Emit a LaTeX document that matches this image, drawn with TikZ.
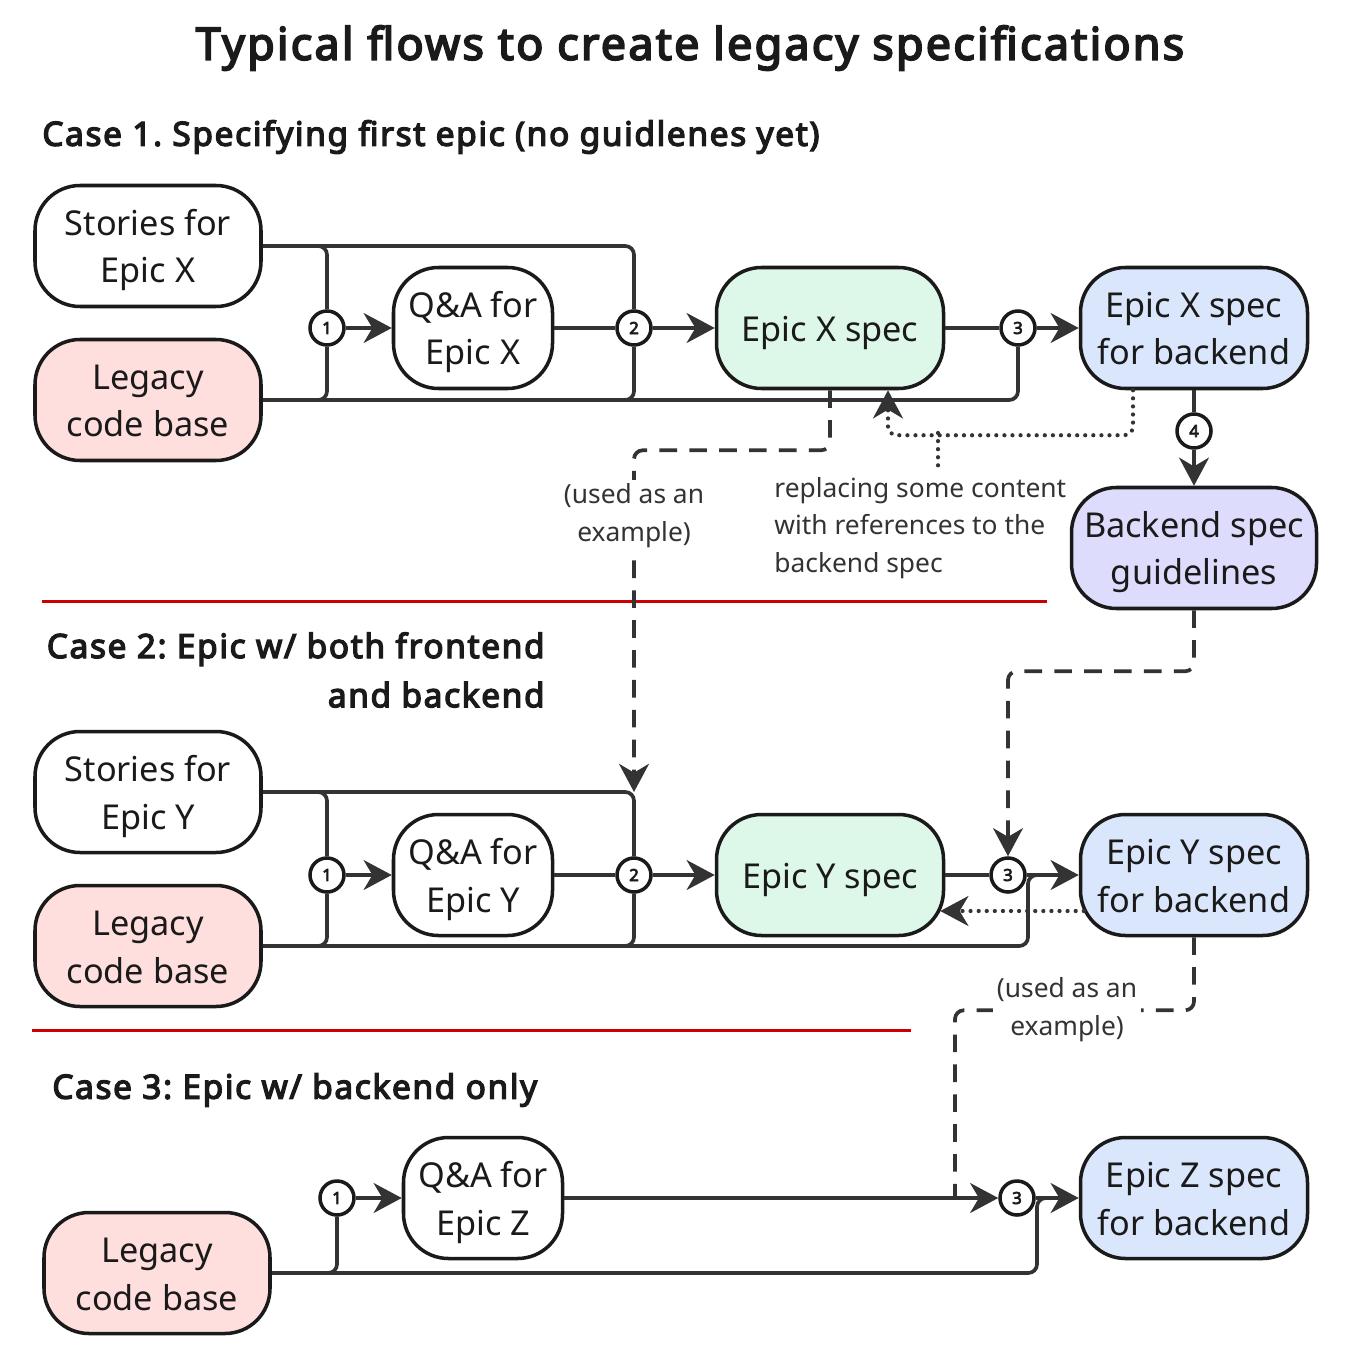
\documentclass[tikz,border=0pt]{standalone}
\usepackage{fontspec}
\setmainfont{Noto Sans}
\newfontfamily\headfont{Noto Sans}[FakeBold=4,LetterSpace=5]
\frenchspacing
\usetikzlibrary{arrows.meta,positioning,calc}
\definecolor{cPink}{RGB}{255,222,222}
\definecolor{cMint}{RGB}{221,247,232}
\definecolor{cSky}{RGB}{218,230,251}
\definecolor{cLilac}{RGB}{222,220,252}
\definecolor{cInk}{RGB}{26,26,26}
\definecolor{cLine}{RGB}{51,51,51}
\definecolor{cRule}{RGB}{204,0,0}
\tikzset{
  basebox/.style={rectangle,rounded corners=0.9cm,draw=cInk,line width=2pt,
                  align=center,text=cInk,font={\fontsize{19.5}{27}\selectfont},
                  minimum height=2.42cm,inner sep=2pt,
                  text height=48pt,text depth=5.9pt},
  whitenode/.style={basebox,fill=white,minimum width=4.52cm},
  pinknode/.style={basebox,fill=cPink,minimum width=4.52cm},
  qanode/.style={basebox,fill=white,minimum width=3.18cm},
  mintnode/.style={basebox,fill=cMint,minimum width=4.54cm,text height=21pt},
  skynode/.style={basebox,fill=cSky,minimum width=4.54cm},
  lilacnode/.style={basebox,fill=cLilac,minimum width=4.9cm},
  numcirc/.style={circle,draw=cInk,line width=2pt,fill=white,minimum size=0.68cm,
                  inner sep=0pt,text=cInk,font={\headfont\fontsize{9.5}{10}\selectfont}},
  headtxt/.style={font={\headfont\fontsize{19}{28}\selectfont},text=cInk,inner sep=0pt},
  notetxt/.style={font={\fontsize{15}{21.5}\selectfont},text=cLine,inner sep=2pt},
  conn/.style={line width=2.1pt,draw=cLine,rounded corners=5pt},
  arr/.style={conn,-{Stealth[length=16pt,width=17pt,inset=5pt]}},
  dashline/.style={conn,dash pattern=on 10pt off 7pt},
  dasharr/.style={arr,dash pattern=on 10pt off 7pt},
  dotline/.style={conn,line width=2.4pt,dash pattern=on 0pt off 4.6pt,line cap=round},
  dotarr/.style={arr,line width=2.4pt,dash pattern=on 0pt off 4.6pt,line cap=round},
  ruleline/.style={line width=1.7pt,draw=cRule}
}

\begin{document}
\begin{tikzpicture}
  \useasboundingbox (0,0) rectangle (27,-27.4);

  % Title and case headings
  \node[font={\headfont\fontsize{25.5}{30}\selectfont},text=cInk] (title) at (13.8,-0.96)
      {Typical flows to create legacy specifications};
  \node[headtxt,anchor=west] (case1) at (0.84,-2.74)
      {Case 1. Specifying first epic (no guidlenes yet)};
  \node[headtxt,anchor=east,align=right] (case2) at (10.9,-13.4)
      {Case 2: Epic w/ both frontend\\and backend};
  \node[headtxt,anchor=west] (case3) at (1.04,-21.8)
      {Case 3: Epic w/ backend only};

  % Separators
  \draw[ruleline] (0.84,-12.02) -- (20.94,-12.02);
  \draw[ruleline] (0.64,-20.6) -- (18.22,-20.6);

  % Case 1: first epic
  \node[whitenode] (storX) at (2.96,-4.92) {Stories for\\Epic X};
  \node[pinknode] (codeX) at (2.96,-8.0) {Legacy\\code base};
  \node[qanode] (qaX) at (9.46,-6.56) {Q\&A for\\Epic X};
  \node[mintnode] (specX) at (16.6,-6.56) {Epic X spec};
  \node[skynode] (backX) at (23.88,-6.56) {Epic X spec\\for backend};
  \node[lilacnode] (guide) at (23.88,-10.96) {Backend spec\\guidelines};
  \node[numcirc] (x1) at (6.54,-6.56) {1};
  \node[numcirc] (x2) at (12.68,-6.56) {2};
  \node[numcirc] (x3) at (20.36,-6.56) {3};
  \node[numcirc] (x4) at (23.88,-8.62) {4};

  \draw[conn] (storX.east) -| (x1);
  \draw[conn] (storX.east) -| (x2);
  \draw[conn] (codeX.east) -| (x1);
  \draw[conn] (codeX.east) -| (x2);
  \draw[conn] (codeX.east) -| (x3);
  \draw[arr] (x1) -- (qaX);
  \draw[conn] (qaX) -- (x2);
  \draw[arr] (x2) -- (specX);
  \draw[conn] (specX) -- (x3);
  \draw[arr] (x3) -- (backX);
  \draw[conn] (backX) -- (x4);
  \draw[arr] (x4) -- (guide);

  % back-references to the guidelines
  \draw[dotarr] ($(backX.south)+(-1.22,0)$) -- ++(0,-0.9) -| ($(specX.south)+(1.16,0)$);
  \draw[dotline] (18.76,-8.66) -- (18.76,-9.36);
  \node[notetxt,anchor=west,align=left] (repl) at (15.41,-10.56)
      {replacing some content\\with references to the\\backend spec};

  % Case 2: frontend and backend
  \node[whitenode] (storY) at (2.96,-15.84) {Stories for\\Epic Y};
  \node[pinknode] (codeY) at (2.96,-18.92) {Legacy\\code base};
  \node[qanode] (qaY) at (9.46,-17.5) {Q\&A for\\Epic Y};
  \node[mintnode] (specY) at (16.6,-17.5) {Epic Y spec};
  \node[skynode] (backY) at (23.88,-17.5) {Epic Y spec\\for backend};
  \node[numcirc] (y1) at (6.54,-17.5) {1};
  \node[numcirc] (y2) at (12.68,-17.5) {2};
  \node[numcirc] (y3) at (20.16,-17.5) {3};
  \coordinate (q2top) at (12.68,-15.84);
  \coordinate (joinY) at (20.56,-17.5);

  \draw[conn] (storY.east) -| (y1);
  \draw[conn] (storY.east) -| (y2);
  \draw[conn] (codeY.east) -| (y1);
  \draw[conn] (codeY.east) -| (y2);
  \draw[conn] (codeY.east) -| (joinY) -- ++(0.4,0);
  \draw[arr] (y1) -- (qaY);
  \draw[conn] (qaY) -- (y2);
  \draw[arr] (y2) -- (specY);
  \draw[conn] (specY) -- (y3);
  \draw[arr] (y3) -- (backY);
  \draw[dotarr] ($(backY.west)+(0.1,-0.72)$) -- ($(specY.east)+(-0.1,-0.72)$);

  % examples carried over
  \draw[dasharr] (specX.south) -- ++(0,-1.2) -| (q2top);
  \node[notetxt,fill=white,align=center] (ex1) at (12.68,-10.32) {(used as an\\example)};
  \draw[dasharr] (guide.south) -- ++(0,-1.22) -| (y3);

  % Case 3: backend only
  \node[pinknode] (codeZ) at (3.14,-25.46) {Legacy\\code base};
  \node[qanode] (qaZ) at (9.66,-23.96) {Q\&A for\\Epic Z};
  \node[skynode] (backZ) at (23.88,-23.96) {Epic Z spec\\for backend};
  \node[numcirc] (z1) at (6.74,-23.96) {1};
  \node[numcirc] (z3) at (20.34,-23.96) {3};
  \coordinate (joinZ) at (20.74,-23.96);
  \coordinate (dashZ) at (19.1,-23.96);

  \draw[conn] (codeZ.east) -| (z1);
  \draw[conn] (codeZ.east) -| (joinZ) -- ++(0.4,0);
  \draw[dashline] (backY.south) -- ++(0,-1.46) -| (dashZ);
  \node[notetxt,fill=white,align=center] (ex2) at (21.34,-20.2) {(used as an\\example)};
  \draw[arr] (z1) -- (qaZ);
  \draw[arr] (qaZ) -- (z3);
  \draw[arr] (z3) -- (backZ);

\end{tikzpicture}
\end{document}
